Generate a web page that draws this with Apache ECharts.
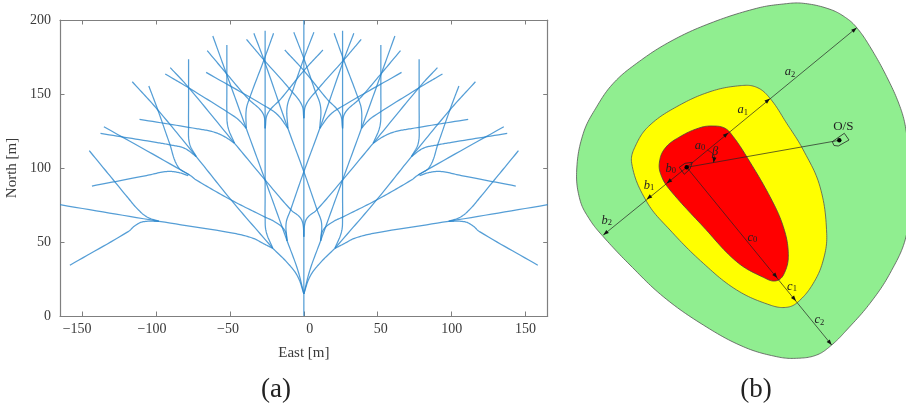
<!DOCTYPE html>
<html>
<head>
<meta charset="utf-8">
<style>html,body{margin:0;padding:0;background:#fff}#c{width:906px;height:405px}</style>
<script src="https://cdn.jsdelivr.net/npm/echarts@6/dist/echarts.min.js"></script>
</head>
<body>
<div id="c"></div>
<script>
// ---------- Panel (a): tick labels ----------
const xTicks = [-150, -100, -50, 0, 50, 100, 150];
const yTicks = [0, 50, 100, 150, 200];

// ---------- Panel (a): branch paths, East/North in metres ----------
const trunk = [[0, 0], [0, 200]];
const rightBranches = [
  [[0,15],[4.1,26.6],[10.8,35.6],[21,45.7]],
  [[0,15],[4.1,31],[11.3,50.7]],
  [[21,45.7],[27.5,49],[34.3,52.5],[48,56],[98,64],[165,75.2]],
  [[21,45.7],[25.5,57],[26.2,67],[26.2,80],[26.2,192.8]],
  [[21,45.7],[49.2,78.4],[72.8,107.7],[98.8,139.2],[116.1,158.3]],
  [[11.3,50.7],[26.2,91.9],[39,126.8],[52.5,164],[61.6,189.2]],
  [[11.3,50.7],[13.1,58.1],[19.8,63.7],[26.6,67],[49.2,78.4],[72.8,91.9],[77.4,95.3],[135.3,127.9]],
  [[11.3,50.7],[12,62.6],[9,71.6],[0,97.5],[-10.8,126.8],[-27,173],[-33.8,191]],
  [[0,53.6],[0.7,62.6],[2.9,67],[8.6,71.6],[26.2,91.9],[46.9,116.7]],
  [[46.9,116.7],[51.4,127.9],[52.1,139.2],[52.1,150],[52.1,183.1]],
  [[46.9,116.7],[53.7,121.2],[61.6,124.5],[72,126.5],[111.2,132.9]],
  [[46.9,116.7],[78.5,155],[90.4,167.8]],
  [[72.8,107.7],[77.4,116.7],[78,130],[78,142],[78,173.4]],
  [[72.8,107.7],[80.7,113.3],[89.8,115.5],[100,117.3],[137.6,123.4]],
  [[78.3,94.8],[85,97],[92.9,97.6],[106.5,94.9],[143.4,87.8]],
  [[77.4,95.3],[85.2,100.9],[90.9,116.7],[98.8,139.2],[104.9,155.4]],
  [[98,64],[106.4,67.1],[113.1,72.9],[118.8,79.6],[128.9,91.9],[145.2,111.7]],
  [[98,64],[108.7,63.7],[114.3,61],[118.9,57],[158.3,34.3]],
  [[26.2,126.8],[24.4,136.9],[15.3,147],[0,165.8],[-12.9,179.7]],
  [[26.2,126.8],[27.7,136.9],[37.9,147],[52.5,164],[65.4,179.3]],
  [[39,126.8],[39,139.2],[36.8,147],[27,173],[20.5,191]],
  [[39,126.8],[42.9,131.3],[46.9,134.7],[78.5,154.5],[93.8,163.5]],
  [[10.8,126.8],[11.3,141.4],[7.4,152.7],[0,174],[-6.8,191.7]],
  [[10.8,126.8],[17.6,135.8],[25.5,141.4],[66.1,164.6]],
  [[0,133.6],[1.4,142.6],[9,152.7],[27,173],[38.8,186.9]]
];
const leftBranches = [
  [[0,15],[-4.1,26.6],[-10.8,35.6],[-21,45.7]],
  [[0,15],[-4.1,31],[-11.3,50.7]],
  [[-21,45.7],[-27.5,49],[-34.3,52.5],[-48,56],[-98,64],[-165,75.2]],
  [[-21,45.7],[-25.5,57],[-26.2,67],[-26.2,80],[-26.2,192.8]],
  [[-21,45.7],[-49.2,78.4],[-72.8,107.7],[-98.8,139.2],[-116.1,158.3]],
  [[-11.3,50.7],[-26.2,91.9],[-39,126.8],[-52.5,164],[-61.6,189.2]],
  [[-11.3,50.7],[-13.1,58.1],[-19.8,63.7],[-26.6,67],[-49.2,78.4],[-72.8,91.9],[-77.4,95.3],[-135.3,127.9]],
  [[-11.3,50.7],[-12,62.6],[-9,71.6],[0,97.5],[10.8,126.8],[27,173],[33.8,191]],
  [[0,53.6],[-0.7,62.6],[-2.9,67],[-8.6,71.6],[-26.2,91.9],[-46.9,116.7]],
  [[-46.9,116.7],[-51.4,127.9],[-52.1,139.2],[-52.1,150],[-52.1,183.1]],
  [[-46.9,116.7],[-53.7,121.2],[-61.6,124.5],[-72,126.5],[-111.2,132.9]],
  [[-46.9,116.7],[-78.5,155],[-90.4,167.8]],
  [[-72.8,107.7],[-77.4,116.7],[-78,130],[-78,142],[-78,173.4]],
  [[-72.8,107.7],[-80.7,113.3],[-89.8,115.5],[-100,117.3],[-137.6,123.4]],
  [[-78.3,94.8],[-85,97],[-92.9,97.6],[-106.5,94.9],[-143.4,87.8]],
  [[-77.4,95.3],[-85.2,100.9],[-90.9,116.7],[-98.8,139.2],[-104.9,155.4]],
  [[-98,64],[-106.4,67.1],[-113.1,72.9],[-118.8,79.6],[-128.9,91.9],[-145.2,111.7]],
  [[-98,64],[-108.7,63.7],[-114.3,61],[-118.9,57],[-158.3,34.3]],
  [[-26.2,126.8],[-24.4,136.9],[-15.3,147],[0,165.8],[12.9,179.7]],
  [[-26.2,126.8],[-27.7,136.9],[-37.9,147],[-52.5,164],[-65.4,179.3]],
  [[-39,126.8],[-39,139.2],[-36.8,147],[-27,173],[-20.5,191]],
  [[-39,126.8],[-42.9,131.3],[-46.9,134.7],[-78.5,154.5],[-93.8,163.5]],
  [[-10.8,126.8],[-11.3,141.4],[-7.4,152.7],[0,174],[6.8,191.7]],
  [[-10.8,126.8],[-17.6,135.8],[-25.5,141.4],[-66.1,164.6]],
  [[0,133.6],[-1.4,142.6],[-9,152.7],[-27,173],[-38.8,186.9]]
];

// ---------- Panel (b): zone outlines, schematic units ----------
const greenZone = [[803.3,3.3],[830,9.3],[846.7,18.3],[857.3,28.3],[870,46.7],[886.7,76.7],[900,106.7],[906,130],[912,183],[906,236.7],[890,273.3],[870,303.3],[846.7,330],[831.7,345],[816.7,355],[796.7,358.3],[776.7,356.7],[743.3,346.7],[703.3,325],[663.3,296.7],[630,265],[603.3,236.7],[590,220],[580,200],[576.7,170],[583.3,133.3],[596.7,106.7],[613.3,83.3],[636.7,63.3],[670,41.7],[710,23.3],[756.7,8.3],[783.3,4]];
const yellowZone = [[740,85.7],[756.7,87.3],[770,98.3],[786.7,123.3],[803.3,150],[820,186.7],[826.7,233.3],[823.3,260],[813.3,283.3],[798.3,301.7],[786.7,307.3],[770,305],[736.7,290],[703.3,263.3],[670,230],[646.7,201.7],[631.7,163.3],[636.7,143.3],[650,125],[676.7,106.7],[710,91.7]];
const redZone = [[713.3,126],[725,128.3],[733.3,136.7],[746.7,156.7],[770,196.7],[783.3,226.7],[788.3,253.3],[785,271.7],[776.7,280.7],[763.3,277.3],[736.7,261.7],[703.3,226.7],[670,190],[661.7,176.7],[659.3,163.3],[665,148.3],[680,136.7],[700,127.7]];
const hostPentagon = [[679.3,167.3],[685,163.3],[692.3,162.3],[690,169],[684.3,174.3]];
const osPentagon = [[832.3,141.7],[844.3,133.3],[849,140],[838.3,146],[834,145.5]];
const hostPoint = [686.7,167.3];
const osPoint = [839.3,140.3];
const aTips = [[728.3,132.7],[770,98.6],[856.7,27.7]];
const bTips = [[666.7,183.3],[646.7,199.3],[603.3,235]];
const cTips = [[777.3,278],[796,301],[831.7,345]];
const betaArc = [[707.3,150],[712,153],[714.5,157],[713.5,162.7]];
const dimLabels = [
  ['a','2',790,72],['a','1',742.7,110],['a','0',700,145.7],['β','',715,151.7],
  ['b','0',670.7,168.3],['b','1',649,185.7],['b','2',606.7,220.7],
  ['c','0',752.3,237.7],['c','1',792,286.7],['c','2',819.3,320],['O/S','',843.3,126.7]
];
const captions = [['(a)',276],['(b)',756]];

// ---------- Styles ----------
const SERIF = '"Liberation Serif","Times New Roman",serif';
const AXIS = '#7f7f7f', TEXT = '#3a3a3a', BRANCH = '#2b86cc';
const labelShift = {'-150':-5,'-100':-4,'-50':-2,'0':6,'50':3,'100':0,'150':0};

function richFor() {
  const r = {};
  Object.values(labelShift).forEach(s => {
    r['s' + (s + 10)] = {fontFamily: SERIF, fontSize: 14, color: TEXT,
      padding: s >= 0 ? [0,0,0,2*s] : [0,-2*s,0,0]};
  });
  return r;
}
const inTick = {show:true, inside:true, length:4.5, lineStyle:{color:AXIS, width:1}};
const axisLine = {show:true, onZero:false, lineStyle:{color:AXIS, width:1.2}};
const xDomain = {min:-165, max:165};
const yDomain = {min:0, max:200};

// ---------- Curve drawing: a path through the read points, in screen space ----------
const pts = (api, arr) => arr.map(p => api.coord(p));
function curve(P, closed) {
  const n = P.length, out = [], k = 0.38, steps = 14;
  const at = i => closed ? P[(i + n) % n] : P[Math.max(0, Math.min(n - 1, i))];
  const unit = i => {
    const a = at(i - 1), b = at(i + 1), dx = b[0]-a[0], dy = b[1]-a[1], d = Math.hypot(dx, dy) || 1;
    return [dx/d, dy/d];
  };
  const segs = closed ? n : n - 1;
  for (let i = 0; i < segs; i++) {
    const p0 = at(i), p1 = at(i + 1), L = Math.hypot(p1[0]-p0[0], p1[1]-p0[1]);
    const u0 = unit(i), u1 = unit(i + 1);
    const c0 = [p0[0]+u0[0]*L*k, p0[1]+u0[1]*L*k], c1 = [p1[0]-u1[0]*L*k, p1[1]-u1[1]*L*k];
    for (let s = 0; s < steps; s++) {
      const t = s/steps, m = 1-t;
      out.push([0,1].map(j => m*m*m*p0[j] + 3*m*m*t*c0[j] + 3*m*t*t*c1[j] + t*t*t*p1[j]));
    }
  }
  if (!closed) out.push(P[n - 1]);
  return out;
}

// ---------- Panel (a) series ----------
const allBranches = [trunk].concat(rightBranches, leftBranches);
function branch(params, api) {
  return {type:'polyline',
    shape:{points:curve(pts(api, allBranches[params.dataIndex]), false)},
    style:{stroke:BRANCH, lineWidth:1.25, opacity:0.8, fill:null}};
}

// ---------- Panel (b) helpers ----------
function zone(api, arr, fill, stroke) {
  return {type:'polygon', shape:{points:curve(pts(api, arr), true)},
    style:{fill:fill, stroke:stroke, lineWidth:0.8}};
}
function outline(api, arr) {
  return {type:'polygon', shape:{points:pts(api, arr)}, style:{fill:'none', stroke:'#222', lineWidth:0.8}};
}
function segment(api, a, b) {
  const p = api.coord(a), q = api.coord(b);
  return {type:'line', shape:{x1:p[0],y1:p[1],x2:q[0],y2:q[1]}, style:{stroke:'#222', lineWidth:0.7, fill:null}};
}
function arrowHead(api, from, tip) {
  const p = api.coord(from), q = api.coord(tip);
  const d = Math.hypot(q[0]-p[0], q[1]-p[1]), ux=(q[0]-p[0])/d, uy=(q[1]-p[1])/d;
  const L=5.5, W=2;
  const bx=q[0]-ux*L, by=q[1]-uy*L;
  return {type:'polygon', shape:{points:[q,[bx-uy*W,by+ux*W],[bx+uy*W,by-ux*W]]}, style:{fill:'#111'}};
}
function dot(api, c, r) {
  const p = api.coord(c);
  return {type:'circle', shape:{cx:p[0],cy:p[1],r:r}, style:{fill:'#000'}};
}
function schematic(params, api) {
  const kids = [
    zone(api, greenZone, '#90EE90', '#555'),
    zone(api, yellowZone, '#FFFF00', '#555'),
    zone(api, redZone, '#FF0000', '#444')
  ];
  [aTips, bTips, cTips].forEach(t => {
    kids.push(segment(api, hostPoint, t[t.length-1]));
    t.forEach(tip => kids.push(arrowHead(api, hostPoint, tip)));
  });
  kids.push(segment(api, hostPoint, osPoint));
  kids.push({type:'polyline', shape:{points:curve(pts(api, betaArc), false)}, style:{stroke:'#222', lineWidth:0.7, fill:null}});
  kids.push(arrowHead(api, betaArc[betaArc.length-2], betaArc[betaArc.length-1]));
  kids.push(outline(api, hostPentagon));
  kids.push(outline(api, osPentagon));
  kids.push(dot(api, hostPoint, 2.2));
  kids.push(dot(api, osPoint, 2.2));
  dimLabels.forEach(l => {
    const p = api.coord([l[2], l[3]]);
    const plain = l[0] === 'O/S';
    kids.push({type:'text', x:p[0], y:p[1], style:{
      text: plain ? '{u|O/S}' : '{i|'+l[0]+'}' + (l[1] ? '{s|'+l[1]+'}' : ''),
      align:'center', verticalAlign:'middle',
      rich:{
        u:{fontFamily:SERIF, fontSize:13, fill:'#222', color:'#222'},
        i:{fontFamily:SERIF, fontStyle:'italic', fontSize:12.5, fill:'#222', color:'#222'},
        s:{fontFamily:SERIF, fontSize:8.5, fill:'#222', color:'#222', padding:[5,0,0,0]}
      }
    }});
  });
  return {type:'group', children:kids};
}

// ---------- Chart ----------
const chart = echarts.init(document.getElementById('c'), null, {renderer:'canvas'});
chart.setOption({
  animation:false,
  backgroundColor:'#fff',
  textStyle:{fontFamily:SERIF},
  title: captions.map(c => ({text:c[0], left:c[1]-5, top:371, textAlign:'center',
    textStyle:{fontFamily:SERIF, fontSize:27, fontWeight:'normal', color:'#222'}})),
  grid:[
    {left:60, top:20, width:487.7, height:296, show:false, outerBoundsMode:'none'},
    {left:570, top:0, width:336, height:405, show:false, outerBoundsMode:'none'}
  ],
  xAxis:[
    {type:'value', gridIndex:0, position:'bottom', ...xDomain, splitLine:{show:false},
     axisLine, axisTick:{...inTick, customValues:xTicks},
     axisLabel:{customValues:xTicks, margin:6, hideOverlap:false,
       formatter:v => '{s' + (labelShift[v] + 10) + '|' + String(v).replace('-','\u2212') + '}',
       rich:richFor()},
     name:'East [m]', nameLocation:'middle', nameGap:30,
     nameTextStyle:{fontFamily:SERIF, fontSize:15, color:TEXT}},
    {type:'value', gridIndex:0, position:'top', ...xDomain, splitLine:{show:false},
     axisLine, axisTick:{...inTick, customValues:xTicks}, axisLabel:{show:false}},
    {type:'value', gridIndex:1, min:570, max:906, show:false}
  ],
  yAxis:[
    {type:'value', gridIndex:0, position:'left', ...yDomain, splitLine:{show:false},
     axisLine, axisTick:{...inTick, customValues:yTicks},
     axisLabel:{customValues:yTicks, margin:9, fontFamily:SERIF, fontSize:14, color:TEXT},
     name:'North [m]', nameLocation:'middle', nameGap:38,
     nameTextStyle:{fontFamily:SERIF, fontSize:15, color:TEXT}},
    {type:'value', gridIndex:0, position:'right', ...yDomain, splitLine:{show:false},
     axisLine, axisTick:{...inTick, customValues:yTicks}, axisLabel:{show:false}},
    {type:'value', gridIndex:1, min:0, max:405, inverse:true, show:false}
  ],
  series:[
    {type:'custom', name:'Branches', xAxisIndex:0, yAxisIndex:0, coordinateSystem:'cartesian2d',
     data:allBranches.map((b,i)=>[b[0][0], b[0][1], i]), encode:{x:0, y:1}, renderItem:branch, silent:true, clip:true, z:3},
    {type:'custom', name:'Zones', xAxisIndex:2, yAxisIndex:2, coordinateSystem:'cartesian2d',
     data:[[570,0]], renderItem:schematic, silent:true, clip:true, z:2}
  ]
});
</script>
</body>
</html>
